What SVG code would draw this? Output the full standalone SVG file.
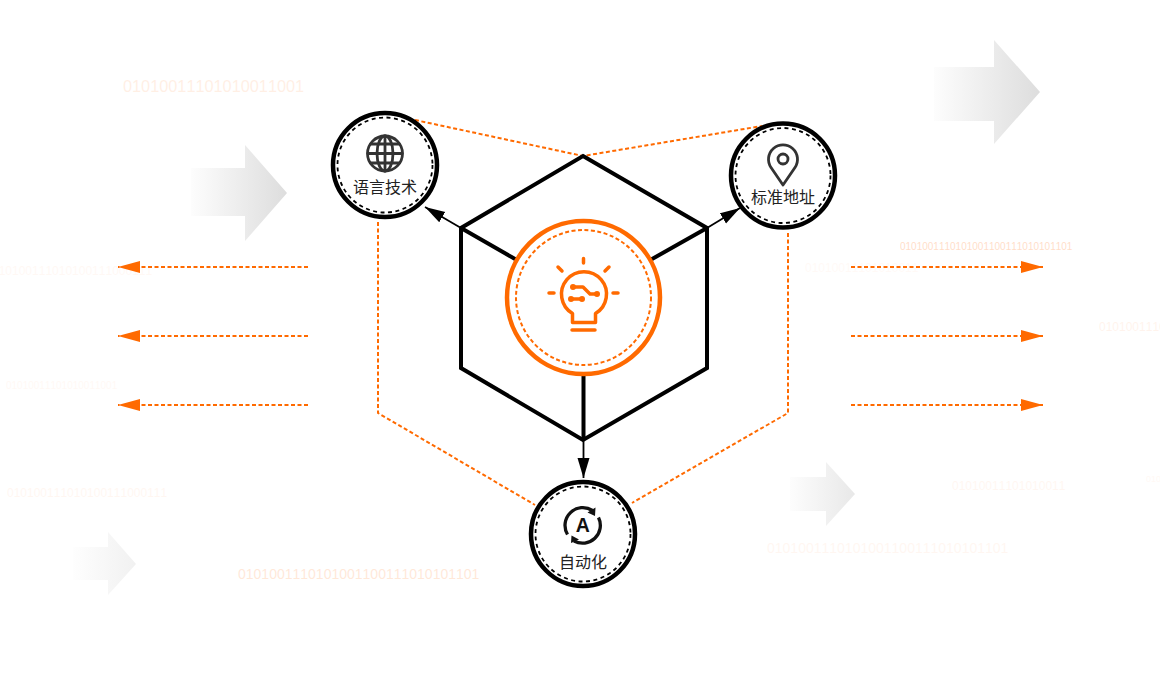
<svg xmlns="http://www.w3.org/2000/svg" width="1160" height="700" viewBox="0 0 1160 700">
<style>
.bg{font-family:"Liberation Sans",Arial,sans-serif;fill:#ff6a00;font-kerning:none}
.lbl{font-family:"Noto Sans CJK SC","Liberation Sans",sans-serif;font-size:16px;fill:#222;text-anchor:middle}
.ring{fill:#fff;stroke:#000;stroke-width:4.500}
.ringd{fill:none;stroke:#000;stroke-width:1.800;stroke-dasharray:4 3.500}
.hex{fill:none;stroke:#000;stroke-width:4;stroke-linejoin:miter}
.thin{fill:none;stroke:#000;stroke-width:1.800}
.od{fill:none;stroke:#ff6a00;stroke-width:2;stroke-dasharray:4 2.500}
.ic{fill:none;stroke:#333;stroke-width:2.800;stroke-linecap:round;stroke-linejoin:round}
.bulb{fill:none;stroke:#ff6a00;stroke-width:3.500;stroke-linecap:round;stroke-linejoin:round}
</style>
<defs>
<linearGradient id="g1" x1="0" y1="0" x2="1" y2="0"><stop offset="0" stop-color="#fdfdfd"/><stop offset="1" stop-color="#ddd"/></linearGradient>
<linearGradient id="g2" x1="0" y1="0" x2="1" y2="0"><stop offset="0" stop-color="#fdfdfd"/><stop offset="1" stop-color="#e8e8e8"/></linearGradient>
<linearGradient id="g3" x1="0" y1="0" x2="1" y2="0"><stop offset="0" stop-color="#fefefe"/><stop offset="1" stop-color="#f1f1f1"/></linearGradient>
<marker id="mb" markerUnits="userSpaceOnUse" markerWidth="22" markerHeight="14" refX="20" refY="6" orient="auto"><path d="M0 0L20 6L0 12Z" fill="#000"/></marker>
<marker id="mo" markerUnits="userSpaceOnUse" markerWidth="24" markerHeight="14" refX="22" refY="6" orient="auto"><path d="M0 0L22 6L0 12Z" fill="#ff6a00"/></marker>
</defs>
<g id="background">
<path d="M934 67H994V40L1040 92L994 144V121H934Z" fill="url(#g1)"/>
<path d="M191 168H245V145L287 193L245 241V216H191Z" fill="url(#g1)"/>
<path d="M790 477H826V462L855 494L826 526V511H790Z" fill="url(#g2)"/>
<path d="M73 547H108V532L136 564L108 595V580H73Z" fill="url(#g3)"/>
<text class="bg" x="123" y="92" font-size="16.300" opacity=".1">01010011101010011001</text>
<text class="bg" x="238" y="579" font-size="14" opacity=".15">0101001110101001100111010101101</text>
<text class="bg" x="900" y="250" font-size="10" opacity=".22">0101001110101001100111010101101</text>
<text class="bg" x="767" y="553" font-size="14" opacity=".05">0101001110101001100111010101101</text>
<text class="bg" x="952" y="490" font-size="12" opacity=".05">01010011101010011</text>
<text class="bg" x="1099" y="331" font-size="12" opacity=".07">0101001110</text>
<text class="bg" x="1146" y="482" font-size="9" opacity=".04">010</text>
<text class="bg" x="-8" y="275" font-size="12" opacity=".04">010100111010100111000111</text>
<text class="bg" x="6" y="389" font-size="10" opacity=".04">01010011101010011001</text>
<text class="bg" x="7" y="497" font-size="12" opacity=".05">010100111010100111000111</text>
<text class="bg" x="805" y="272" font-size="12" opacity=".03">01010011101010011</text>
</g>
<g id="connectors">
<path class="od" d="M415 120L583 156L762 126"/>
<path class="od" d="M378 222V413L535 505"/>
<path class="od" d="M788 233V413L632 503"/>
<path class="od" d="M308 267H118" marker-end="url(#mo)"/>
<path class="od" d="M308 336H118" marker-end="url(#mo)"/>
<path class="od" d="M308 405H118" marker-end="url(#mo)"/>
<path class="od" d="M851 267H1043" marker-end="url(#mo)"/>
<path class="od" d="M851 336H1043" marker-end="url(#mo)"/>
<path class="od" d="M851 405H1043" marker-end="url(#mo)"/>
<path class="thin" d="M461 228L425 207" marker-end="url(#mb)"/>
<path class="thin" d="M707 228L740 208" marker-end="url(#mb)"/>
<path class="thin" d="M583.500 440V478" marker-end="url(#mb)"/>
<path class="hex" d="M583 156L707 228V368L583 440L461 368V228Z"/>
<path class="hex" d="M461 228L583 298L707 228M583.500 298V440"/>
</g>
<g id="node-center">
<circle cx="583.500" cy="297.500" r="76.500" fill="#fff" stroke="#ff6a00" stroke-width="4.500"/>
<circle cx="583.500" cy="297.500" r="67.500" fill="none" stroke="#ff6a00" stroke-width="2" stroke-dasharray="4 2.500"/>
<path class="bulb" d="M583.500 258.500V263M549 293H554M613 293H618M558 267L562 271M609 267L605 271"/>
<path class="bulb" d="M572.500 322.500V313.500A22.500 22.500 0 1 1 595.500 313.500V322.500Z"/>
<path class="bulb" d="M572 330H595"/>
<path class="bulb" stroke-width="2.500" d="M573 287H583L590 294H597M571 299H582"/>
<g fill="#ff6a00"><circle cx="573" cy="287" r="3"/><circle cx="597" cy="294" r="3"/><circle cx="571" cy="299" r="3"/><circle cx="582" cy="299" r="3"/></g>
</g>
<g id="node-language">
<circle class="ring" cx="385" cy="165" r="52"/>
<circle class="ringd" cx="385" cy="165" r="47.500"/>
<circle class="ic" cx="385" cy="153.500" r="17.500"/>
<ellipse class="ic" stroke-width="2.200" cx="385" cy="153.500" rx="8" ry="17.500"/>
<path class="ic" stroke-width="2.200" d="M385 136V171M368 153.500H402M371 144H399M371 163H399"/>
<text class="lbl" x="385" y="193">语言技术</text>
</g>
<g id="node-address">
<circle class="ring" cx="783" cy="175.500" r="52"/>
<circle class="ringd" cx="783" cy="175.500" r="47.500"/>
<path class="ic" d="M783 185L771 167.500A14.500 14.500 0 1 1 795 167.500Z"/>
<circle class="ic" cx="783" cy="159" r="5"/>
<text class="lbl" x="783" y="203">标准地址</text>
</g>
<g id="node-auto">
<circle class="ring" cx="583" cy="534" r="52"/>
<circle class="ringd" cx="583" cy="534" r="47.500"/>
<path fill="none" stroke="#111" stroke-width="3.300" d="M567.500 534.500A17.800 17.800 0 0 1 592.500 510.500M598.500 517.500A17.800 17.800 0 0 1 574 541"/>
<path fill="#111" d="M595.500 507.500L595 516L587.500 512.500ZM571 543L571.500 535.500L579 539.500Z"/>
<text x="582.700" y="532" font-family="Liberation Sans,sans-serif" font-weight="700" font-size="19.500" fill="#111" text-anchor="middle">A</text>
<text class="lbl" x="583" y="568">自动化</text>
</g>
</svg>
